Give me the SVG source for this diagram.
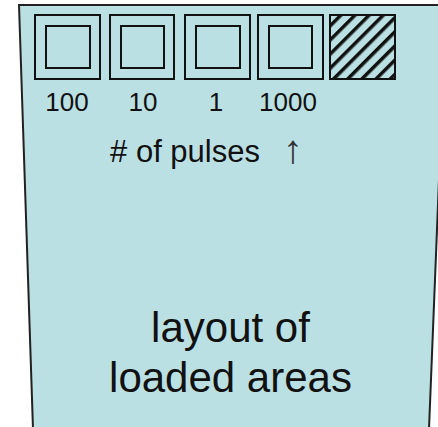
<svg xmlns="http://www.w3.org/2000/svg" width="438" height="427" viewBox="0 0 438 427">
<style>
.box{fill:none;stroke:#111;stroke-width:2}
.t{font-family:"Liberation Sans",Arial,sans-serif;fill:#111;text-anchor:middle}
</style>
<defs>
<pattern id="hatch" patternUnits="userSpaceOnUse" width="10" height="10" patternTransform="rotate(45)">
<rect x="0" y="0" width="3.5" height="10" fill="#111"/>
</pattern>
</defs>
<g id="panel">
<path d="M19,5 L446,5 L429,429 L33,429 Z" fill="#bbe0e3" stroke="#222" stroke-width="2"/>
</g>
<g id="cell-100">
<rect class="box" x="35" y="15" width="65" height="64"/>
<rect class="box" x="46" y="26" width="44" height="42"/>
<text class="t" x="67" y="111" font-size="26">100</text>
</g>
<g id="cell-10">
<rect class="box" x="110" y="15" width="64" height="64"/>
<rect class="box" x="121" y="26" width="43" height="42"/>
<text class="t" x="143" y="111" font-size="26">10</text>
</g>
<g id="cell-1">
<rect class="box" x="185" y="15" width="65" height="64"/>
<rect class="box" x="196" y="26" width="44" height="42"/>
<text class="t" x="216" y="111" font-size="26">1</text>
</g>
<g id="cell-1000">
<rect class="box" x="258" y="15" width="65" height="64"/>
<rect class="box" x="269" y="26" width="43" height="42"/>
<text class="t" x="288" y="111" font-size="26">1000</text>
</g>
<g id="cell-hatched">
<rect x="330" y="15" width="65" height="64" fill="url(#hatch)" stroke="#111" stroke-width="2"/>
</g>
<g id="labels">
<text class="t" x="185" y="161.5" font-size="31"># of pulses</text>
<text x="293" y="163" font-size="40" text-anchor="middle" font-family="'Liberation Sans',Arial,sans-serif" fill="#333">↑</text>
<text class="t" x="230.5" y="341.5" font-size="42">layout of </text>
<text class="t" x="230.5" y="391.5" font-size="42">loaded areas</text>
</g>
</svg>
